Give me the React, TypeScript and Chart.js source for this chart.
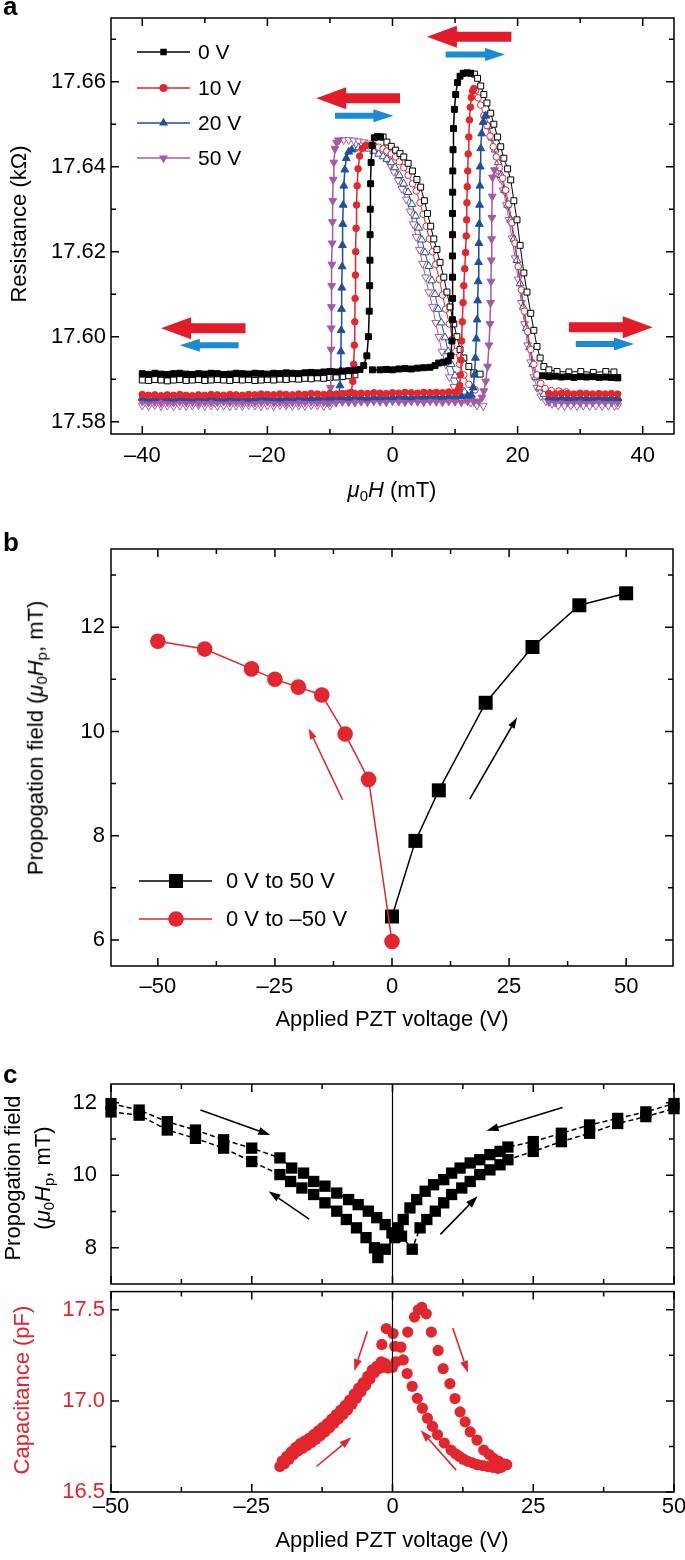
import React, { useEffect, useRef } from 'react';
import { Chart, registerables } from 'chart.js';

Chart.register(...registerables);

const FONT = "'Liberation Sans', Arial, Helvetica, sans-serif";
Chart.defaults.font.family = FONT;

type P = [number, number | null];
type Arrow = [number, number, number, number];

const C0 = '#000000';
const C10 = '#e5262c';
const C20 = '#1f4f9f';
const C50 = '#a65aa6';
const RED = '#e3262d';
const ARROW_RED = '#e41c2a';
const ARROW_BLUE = '#1b8bd3';

// ---------------- Panel a ----------------
const A_X_MAJOR = [-40, -20, 0, 20, 40];
const A_X_MINOR = [-30, -10, 10, 30];
const A_Y_MAJOR = [17.58, 17.6, 17.62, 17.64, 17.66];
const A_Y_MINOR = [17.59, 17.61, 17.63, 17.65, 17.67];
const A_LEGEND = ['0 V', '10 V', '20 V', '50 V'];

const A0_FILLED: P[] = [
  [-40, 17.5913], [-39, 17.5911], [-38, 17.5914], [-37, 17.5912], [-36, 17.5911], [-35, 17.5913], [-34, 17.5914], [-33, 17.5912], [-32, 17.5911], [-31, 17.5913], [-30, 17.5912], [-29, 17.5914], [-28, 17.5913], [-27, 17.5911], [-26, 17.5912], [-25, 17.5914], [-24, 17.5913], [-23, 17.5912], [-22, 17.5914], [-21, 17.5913], [-20, 17.5912], [-19, 17.5914], [-18, 17.5913], [-17, 17.5915], [-16, 17.5914], [-15, 17.5913], [-14, 17.5915], [-13, 17.5916], [-12, 17.5915], [-11, 17.5917], [-10, 17.5918], [-9, 17.5917], [-8, 17.5919], [-7, 17.592], [-6, 17.5921], [-5.2, 17.5923],
  [-4.6, 17.5932], [-4.1, 17.5955], [-3.85, 17.6], [-3.72, 17.606], [-3.65, 17.612], [-3.6, 17.618], [-3.58, 17.624], [-3.55, 17.63], [-3.5, 17.636], [-3.42, 17.641], [-3.25, 17.645], [-2.9, 17.6468], [-2.4, 17.6471], [-1.9, 17.647],
  [-1.9, null],
  [-3.2, 17.5922], [-2, 17.5922], [-1, 17.5923], [0, 17.5922], [1, 17.5924], [2, 17.5925], [3, 17.5924], [4, 17.5926], [5, 17.5927], [6, 17.5928], [6.8, 17.5932], [7.4, 17.5938], [8.2, 17.594], [8.9, 17.5943],
  [9.3, 17.5955], [9.5, 17.599], [9.58, 17.604], [9.6, 17.609], [9.6, 17.614], [9.6, 17.619], [9.6, 17.624], [9.6, 17.629], [9.62, 17.634], [9.64, 17.639], [9.68, 17.644], [9.75, 17.649], [9.9, 17.6535], [10.1, 17.657], [10.4, 17.6598], [10.8, 17.6613], [11.3, 17.662], [11.9, 17.6621], [12.5, 17.662],
  [12.5, null],
  [24, 17.5908], [25, 17.5906], [26, 17.5907], [27, 17.5905], [28, 17.5906], [29, 17.5904], [30, 17.5906], [31, 17.5905], [32, 17.5906], [33, 17.5904], [34, 17.5905], [35, 17.5904], [36, 17.5903],
];

const A0_OPEN: P[] = [
  [-40, 17.5898], [-39, 17.5897], [-38, 17.5899], [-37, 17.5898], [-36, 17.5896], [-35, 17.5898], [-34, 17.5899], [-33, 17.5897], [-32, 17.5898], [-31, 17.5899], [-30, 17.5897], [-29, 17.5898], [-28, 17.5899], [-27, 17.5898], [-26, 17.5897], [-25, 17.5899], [-24, 17.5898], [-23, 17.5899], [-22, 17.5897], [-21, 17.5898], [-20, 17.5899], [-19, 17.5898], [-18, 17.59], [-17, 17.5899], [-16, 17.5901], [-15, 17.59], [-14, 17.5902], [-13, 17.5901], [-12, 17.5903], [-11, 17.5902], [-10, 17.5904], [-9, 17.5905], [-8, 17.5906], [-7, 17.5908], [-6, 17.591],
  [-6, null],
  [-1.5, 17.647], [-0.9, 17.6458], [-0.2, 17.6448], [0.5, 17.6439], [1.2, 17.6431], [1.8, 17.6423], [2.5, 17.6408], [3.2, 17.639], [3.9, 17.637], [4.5, 17.6352], [5.1, 17.632], [5.6, 17.629], [6.1, 17.626], [6.6, 17.623], [7.1, 17.6205], [7.6, 17.6175], [8.2, 17.614], [8.7, 17.6105], [9.2, 17.607], [9.8, 17.603], [10.3, 17.6], [10.8, 17.597], [11.4, 17.595], [12.2, 17.593], [13, 17.5915], [14, 17.5912],
  [14, null],
  [13.1, 17.6618], [13.6, 17.6608], [14.1, 17.659], [14.6, 17.657], [15.1, 17.655], [15.7, 17.6526], [16.2, 17.65], [16.8, 17.647], [17.3, 17.6447], [17.8, 17.642], [18.4, 17.6395], [18.9, 17.6369], [19.4, 17.632], [19.9, 17.6275], [20.4, 17.6215], [21, 17.615], [21.5, 17.6105], [22.1, 17.6055], [22.6, 17.6015], [23.1, 17.5977], [23.6, 17.595], [24.2, 17.593], [25, 17.5922], [26.3, 17.5918], [28.2, 17.5917], [30.1, 17.5918], [32.1, 17.5916], [34.1, 17.5918], [35.4, 17.5917], [36, 17.5904],
];

const A10_FILLED: P[] = [
  [-40, 17.5864], [-39, 17.5862], [-38, 17.5863], [-37, 17.5861], [-36, 17.5863], [-35, 17.5862], [-34, 17.5864], [-33, 17.5862], [-32, 17.5861], [-31, 17.5863], [-30, 17.5862], [-29, 17.5864], [-28, 17.5863], [-27, 17.5862], [-26, 17.5864], [-25, 17.5863], [-24, 17.5862], [-23, 17.5864], [-22, 17.5863], [-21, 17.5865], [-20, 17.5864], [-19, 17.5863], [-18, 17.5865], [-17, 17.5864], [-16, 17.5863], [-15, 17.5865], [-14, 17.5864], [-13, 17.5866], [-12, 17.5865], [-11, 17.5864], [-10, 17.5866], [-9, 17.5865], [-8, 17.5866], [-7.2, 17.5867],
  [-6.6, 17.5869], [-6.35, 17.5895], [-6.2, 17.5935], [-6.1, 17.598], [-6.03, 17.6035], [-5.98, 17.609], [-5.93, 17.6145], [-5.88, 17.62], [-5.82, 17.6255], [-5.75, 17.631], [-5.65, 17.6355], [-5.5, 17.6395], [-5.25, 17.6425], [-4.85, 17.6443], [-4.3, 17.645],
  [-4.3, null],
  [-6, 17.5866], [-5, 17.5867], [-4, 17.5866], [-3, 17.5868], [-2, 17.5867], [-1, 17.5866], [0, 17.5868], [1, 17.5867], [2, 17.5869], [3, 17.5868], [4, 17.5867], [5, 17.5869], [6, 17.5868], [7, 17.5869], [8, 17.5868], [9, 17.587], [10, 17.5869], [10.6, 17.5872],
  [10.75, 17.5885], [10.85, 17.591], [10.95, 17.5945], [11.05, 17.599], [11.15, 17.6035], [11.28, 17.608], [11.4, 17.612], [11.55, 17.616], [11.68, 17.6198], [11.78, 17.6237], [11.85, 17.6275], [11.9, 17.6315], [11.95, 17.6353], [12.03, 17.639], [12.1, 17.643], [12.2, 17.647], [12.3, 17.651], [12.45, 17.654], [12.6, 17.6563], [12.8, 17.6578], [13, 17.6584],
  [13, null],
  [25, 17.5866], [26, 17.5865], [27, 17.5867], [28, 17.5866], [29, 17.5865], [30, 17.5867], [31, 17.5866], [32, 17.5865], [33, 17.5866], [34, 17.5865], [35, 17.5866], [36, 17.5865],
];

const A10_OPEN: P[] = [
  [-3.8, 17.6449], [-3, 17.6449], [-2.2, 17.6446], [-1.5, 17.6442], [-0.9, 17.6437], [-0.2, 17.643], [0.5, 17.6423], [1.1, 17.6412], [1.8, 17.6398], [2.5, 17.638], [3.2, 17.636], [3.8, 17.6343], [4.4, 17.6315], [4.9, 17.6288], [5.4, 17.626], [5.9, 17.623], [6.4, 17.62], [6.9, 17.617], [7.5, 17.6135], [8, 17.6098], [8.5, 17.6065], [9.1, 17.603], [9.6, 17.5995], [10.1, 17.5965], [10.7, 17.5935], [11.4, 17.591], [12.2, 17.5888], [13.2, 17.5875],
  [13.2, null],
  [13.3, 17.658], [13.7, 17.6562], [14.1, 17.6545], [14.6, 17.652], [15.1, 17.6497], [15.6, 17.6472], [16.1, 17.6447], [16.6, 17.6423], [17.1, 17.6398], [17.6, 17.6373], [18.1, 17.6345], [18.6, 17.6312], [19.1, 17.6268], [19.6, 17.622], [20.1, 17.6165], [20.6, 17.611], [21.1, 17.606], [21.6, 17.6012], [22.1, 17.597], [22.6, 17.5935], [23.1, 17.591], [23.7, 17.589], [24.4, 17.5878], [25.4, 17.5873], [26.6, 17.5872], [27.8, 17.587],
];

const A20_FILLED: P[] = [
  [-40, 17.5856], [-39, 17.5854], [-38, 17.5855], [-37, 17.5857], [-36, 17.5855], [-35, 17.5854], [-34, 17.5856], [-33, 17.5855], [-32, 17.5854], [-31, 17.5856], [-30, 17.5855], [-29, 17.5857], [-28, 17.5855], [-27, 17.5854], [-26, 17.5856], [-25, 17.5855], [-24, 17.5856], [-23, 17.5854], [-22, 17.5855], [-21, 17.5857], [-20, 17.5856], [-19, 17.5855], [-18, 17.5854], [-17, 17.5856], [-16, 17.5855], [-15, 17.5857], [-14, 17.5856], [-13, 17.5855], [-12, 17.5856], [-11, 17.5857], [-10, 17.5856], [-9.2, 17.5857],
  [-8.6, 17.586], [-8.4, 17.5885], [-8.3, 17.592], [-8.25, 17.5965], [-8.2, 17.6015], [-8.15, 17.6065], [-8.1, 17.6115], [-8.05, 17.6165], [-8, 17.6215], [-7.95, 17.6265], [-7.88, 17.631], [-7.78, 17.6355], [-7.62, 17.6393], [-7.38, 17.642], [-7, 17.6435], [-6.5, 17.644],
  [-6.5, null],
  [-8, 17.5857], [-7, 17.5856], [-6, 17.5858], [-5, 17.5857], [-4, 17.5856], [-3, 17.5858], [-2, 17.5857], [-1, 17.5858], [0, 17.5857], [1, 17.5859], [2, 17.5858], [3, 17.5857], [4, 17.5859], [5, 17.5858], [6, 17.586], [7, 17.5859], [8, 17.5858], [9, 17.586], [10, 17.5859], [11, 17.586], [12, 17.5861], [12.6, 17.5863],
  [12.9, 17.588], [13.1, 17.591], [13.25, 17.595], [13.4, 17.5995], [13.52, 17.604], [13.62, 17.6085], [13.7, 17.613], [13.76, 17.6175], [13.82, 17.622], [13.87, 17.6265], [13.92, 17.631], [13.97, 17.6355], [14.02, 17.64], [14.1, 17.6443], [14.25, 17.6478], [14.5, 17.6505], [14.85, 17.652],
  [14.85, null],
  [25, 17.5857], [26, 17.5856], [27, 17.5857], [28, 17.5855], [29, 17.5856], [30, 17.5857], [31, 17.5855], [32, 17.5856], [33, 17.5857], [34, 17.5855], [35, 17.5856], [36, 17.5855],
];

const A20_OPEN: P[] = [
  [-6.2, 17.6442], [-5.4, 17.6445], [-4.6, 17.6445], [-3.8, 17.6442], [-3, 17.6437], [-2.2, 17.643], [-1.5, 17.6424], [-0.9, 17.6418], [-0.2, 17.641], [0.4, 17.6398], [1.1, 17.638], [1.8, 17.636], [2.5, 17.634], [3.1, 17.6312], [3.7, 17.6284], [4.2, 17.6256], [4.7, 17.6228], [5.2, 17.6198], [5.8, 17.6166], [6.3, 17.6132], [6.8, 17.61], [7.3, 17.6065], [7.8, 17.6033], [8.4, 17.5998], [8.9, 17.5965], [9.4, 17.5935], [10, 17.5908], [10.7, 17.5885], [11.5, 17.587], [12.5, 17.586],
  [12.5, null],
  [14.9, 17.652], [15.4, 17.6495], [15.9, 17.6468], [16.4, 17.644], [16.9, 17.641], [17.4, 17.638], [17.9, 17.6345], [18.4, 17.631], [18.9, 17.6275], [19.4, 17.623], [19.9, 17.618], [20.4, 17.6125], [20.9, 17.607], [21.4, 17.602], [21.9, 17.5975], [22.4, 17.5935], [22.9, 17.5905], [23.5, 17.588], [24.2, 17.5865], [25.2, 17.5858], [26.5, 17.5855], [28, 17.5856], [30, 17.5855], [32, 17.5856], [34, 17.5855], [36, 17.5856],
];

const A50_FILLED: P[] = [
  [-40, 17.5847], [-39, 17.5845], [-38, 17.5846], [-37, 17.5844], [-36, 17.5846], [-35, 17.5845], [-34, 17.5847], [-33, 17.5845], [-32, 17.5846], [-31, 17.5844], [-30, 17.5846], [-29, 17.5845], [-28, 17.5846], [-27, 17.5847], [-26, 17.5845], [-25, 17.5846], [-24, 17.5844], [-23, 17.5846], [-22, 17.5845], [-21, 17.5846], [-20, 17.5847], [-19, 17.5845], [-18, 17.5846], [-17, 17.5844], [-16, 17.5846], [-15, 17.5845], [-14, 17.5846], [-13, 17.5847], [-12, 17.5845], [-11, 17.5846], [-10.4, 17.5845],
  [-10.05, 17.5855], [-9.92, 17.588], [-9.86, 17.592], [-9.82, 17.597], [-9.79, 17.602], [-9.76, 17.607], [-9.72, 17.612], [-9.69, 17.617], [-9.65, 17.622], [-9.6, 17.627], [-9.55, 17.632], [-9.48, 17.637], [-9.38, 17.641], [-9.2, 17.6442], [-8.95, 17.6457], [-8.6, 17.6462],
  [-8.6, null],
  [-10, 17.5846], [-9, 17.5845], [-8, 17.5847], [-7, 17.5846], [-6, 17.5845], [-5, 17.5847], [-4, 17.5846], [-3, 17.5848], [-2, 17.5847], [-1, 17.5846], [0, 17.5848], [1, 17.5847], [2, 17.5846], [3, 17.5848], [4, 17.5847], [5, 17.5846], [6, 17.5848], [7, 17.5847], [8, 17.5846], [9, 17.5848], [10, 17.5847], [11, 17.5846], [12, 17.5848], [13, 17.5847], [13.8, 17.5848],
  [14.3, 17.5857], [14.6, 17.5872], [14.9, 17.5895], [15.2, 17.593], [15.42, 17.598], [15.58, 17.603], [15.68, 17.608], [15.74, 17.613], [15.79, 17.618], [15.84, 17.623], [15.89, 17.628], [15.94, 17.633], [16, 17.6375], [16.3, 17.6392],
  [16.3, null],
  [25, 17.5846], [26, 17.5845], [27, 17.5847], [28, 17.5845], [29, 17.5846], [30, 17.5844], [31, 17.5846], [32, 17.5845], [33, 17.5847], [34, 17.5845], [35, 17.5846], [36, 17.5845],
];

const A50_OPEN: P[] = [
  [-40, 17.5838], [-39, 17.5837], [-38, 17.5839], [-37, 17.5837], [-36, 17.5838], [-35, 17.5836], [-34, 17.5838], [-33, 17.5837], [-32, 17.5838], [-31, 17.5839], [-30, 17.5837], [-29, 17.5838], [-28, 17.5837], [-27, 17.5838], [-26, 17.5836], [-25, 17.5838], [-24, 17.5837], [-23, 17.5839], [-22, 17.5838], [-21, 17.5837], [-20, 17.5838], [-19, 17.5837], [-18, 17.5839], [-17, 17.5838], [-16, 17.5837], [-15, 17.5838], [-14, 17.5837], [-13, 17.5839], [-12, 17.5838], [-11, 17.5837], [-10, 17.5838],
  [-10, null],
  [-8.6, 17.6462], [-7.8, 17.6463], [-7, 17.6463], [-6.2, 17.6462], [-5.4, 17.646], [-4.6, 17.6458], [-3.8, 17.6455], [-3.1, 17.645], [-2.4, 17.6443], [-1.7, 17.6433], [-1, 17.642], [-0.4, 17.6405], [0.2, 17.6388], [0.9, 17.6368], [1.5, 17.6348], [2.2, 17.6323], [2.8, 17.6295], [3.3, 17.6265], [3.8, 17.6235], [4.3, 17.6205], [4.8, 17.6172], [5.3, 17.614], [5.8, 17.6105], [6.4, 17.607], [6.9, 17.6033], [7.4, 17.6], [7.9, 17.5965], [8.5, 17.5935], [9.1, 17.5905], [9.8, 17.5882], [10.6, 17.5865], [11.5, 17.5852], [12.5, 17.5845], [13.5, 17.5838], [14.5, 17.5837],
  [14.5, null],
  [16.7, 17.6392], [17.2, 17.6372], [17.7, 17.6345], [18.2, 17.631], [18.6, 17.6275], [19.1, 17.6232], [19.6, 17.6185], [20.1, 17.6135], [20.6, 17.608], [21.1, 17.603], [21.6, 17.598], [22.1, 17.594], [22.6, 17.5905], [23.1, 17.588], [23.7, 17.586], [24.5, 17.5848], [25.5, 17.5842], [26.5, 17.5838], [27.5, 17.5837], [28.5, 17.5838], [29.5, 17.5837], [30.5, 17.5838], [31.5, 17.5837], [32.5, 17.5838], [33.5, 17.5837], [34.5, 17.5838], [35.5, 17.5837], [36, 17.5838],
];

// block arrows: [tail x, tip x, y]
const A_RED_ARROWS: [number, number, number][] = [[-23.5, -37, 17.602], [1.2, -12.2, 17.6561], [19.0, 5.5, 17.6706], [28.2, 41.6, 17.6022]];
const A_BLUE_ARROWS: [number, number, number][] = [[-24.6, -34, 17.598], [-9.2, 0.14, 17.652], [8.5, 18.0, 17.6664], [29.3, 38.6, 17.5983]];

// ---------------- Panel b ----------------
const B_X_MAJOR = [-50, -25, 0, 25, 50];
const B_X_MINOR = [-37.5, -12.5, 12.5, 37.5];
const B_Y_MAJOR = [6, 8, 10, 12];
const B_Y_MINOR = [7, 9, 11, 13];
const B_UP_V = [0, 5, 10, 20, 30, 40, 50];
const B_UP_H = [6.45, 7.9, 8.87, 10.55, 11.62, 12.42, 12.65];
const B_DOWN_V = [0, -5, -10, -15, -20, -25, -30, -40, -50];
const B_DOWN_H = [5.97, 9.08, 9.95, 10.7, 10.85, 11.0, 11.2, 11.58, 11.73];
const B_LEGEND = ['0 V to 50 V', '0 V to \u201350 V'];
const B_ARROWS_BLACK: Arrow[] = [[16.6, 8.7, 26.7, 10.27]];
const B_ARROWS_RED: Arrow[] = [[-10.55, 8.69, -17.8, 10.06]];

// ---------------- Panel c ----------------
const C_X_MAJOR = [-50, -25, 0, 25, 50];
const C_X_MINOR = [-37.5, -12.5, 12.5, 37.5];
const C1_Y_MAJOR = [8, 10, 12];
const C1_Y_MINOR = [9, 11];
const C2_Y_MAJOR = [16.5, 17.0, 17.5];
const C2_Y_MINOR = [16.75, 17.25];

const C_HP_UPPER: P[] = [
  [-50, 11.98], [-45, 11.8], [-40, 11.48], [-35, 11.25], [-30, 10.98], [-25, 10.75], [-20, 10.48], [-17.9, 10.2], [-15.8, 10.06], [-14, 9.83], [-12, 9.7], [-9.9, 9.51], [-7.8, 9.33], [-6.1, 9.19], [-4.3, 9.01], [-2.8, 8.83], [-1.3, 8.64], [-0.1, 8.41], [1, 8.55], [1.9, 8.78], [3.1, 9.1], [4.3, 9.33], [5.8, 9.56], [7.3, 9.74], [9.1, 9.88], [10.5, 10.06], [12, 10.2], [13.8, 10.34], [15.5, 10.43], [17.3, 10.57], [19.1, 10.66], [20.5, 10.78], [25, 10.93], [30, 11.16], [35, 11.39], [40, 11.57], [45, 11.75], [50, 11.98],
];
const C_HP_LOWER: P[] = [
  [-50, 11.75], [-45, 11.66], [-40, 11.25], [-35, 11.02], [-30, 10.75], [-25, 10.38], [-20, 10.02], [-18.1, 9.83], [-16.1, 9.65], [-14, 9.47], [-12, 9.24], [-9.9, 9.01], [-8.2, 8.78], [-6.4, 8.55], [-4.7, 8.28], [-3.2, 8.0], [-2.6, 7.73], [-1.3, 7.96], [0.4, 8.28], [1.6, 8.32], [3.5, 7.96], [4.9, 8.55], [6.1, 8.78], [7.6, 9.01], [9.1, 9.24], [10.5, 9.47], [12.3, 9.65], [13.8, 9.83], [15.5, 10.02], [17.3, 10.15], [19.1, 10.29], [20.5, 10.43], [25, 10.66], [30, 10.93], [35, 11.16], [40, 11.43], [45, 11.62], [50, 11.84],
];
const C_CAP: P[] = [
  [-20, 16.64], [-19.2, 16.655], [-18.4, 16.68], [-17.6, 16.705], [-16.8, 16.725], [-16, 16.74], [-15.2, 16.755], [-14.4, 16.772], [-13.6, 16.79], [-12.8, 16.81], [-12, 16.83], [-11.2, 16.853], [-10.4, 16.877], [-9.6, 16.9], [-8.8, 16.925], [-8, 16.95], [-7.2, 16.982], [-6.4, 17.015], [-5.6, 17.05], [-4.8, 17.085], [-4, 17.12], [-3.2, 17.155], [-2.4, 17.178], [-1.6, 17.185], [-0.8, 17.18], [0, 17.185],
  [-1.3, 17.205], [-2, 17.215], [-2.8, 17.19], [-3.6, 17.17], [-4.4, 17.135], [-5.2, 17.1], [-6, 17.07], [-6.8, 17.038], [-7.6, 17.005], [-8.4, 16.975], [-9.2, 16.95], [-10, 16.925], [-10.8, 16.9], [-11.6, 16.875], [-12.4, 16.855], [-13.2, 16.835], [-14, 16.815], [-14.8, 16.795], [-15.6, 16.78], [-16.4, 16.765], [-17.2, 16.745], [-18, 16.72], [-18.8, 16.695], [-19.6, 16.67],
  [-1.1, 17.397], [0.1, 17.37], [-1.9, 17.31], [0.4, 17.3], [1.5, 17.295], [1.9, 17.225], [0.6, 17.215],
  [2.7, 17.378], [3.9, 17.46], [4.6, 17.5], [5.2, 17.514], [6, 17.478], [6.9, 17.378], [8.1, 17.277], [9, 17.177], [10.2, 17.095], [11.1, 17.013], [12, 16.94], [12.9, 16.885], [13.8, 16.83], [15, 16.785], [16.2, 16.73], [17.2, 16.705], [17.9, 16.685], [18.8, 16.67], [19.7, 16.655], [20.3, 16.65],
  [2.6, 17.15], [3.5, 17.08], [4.4, 17.014], [5.3, 16.96], [6.2, 16.905], [7.1, 16.86], [8, 16.814], [9.2, 16.769], [10.4, 16.73], [11.2, 16.71], [11.9, 16.695], [12.6, 16.68], [13.4, 16.668], [14.2, 16.66], [15.1, 16.65], [16, 16.645], [16.9, 16.64], [17.8, 16.635], [18.7, 16.63], [19.3, 16.635], [19.9, 16.65],
];
const C1_ARROWS: Arrow[] = [[-34.1, 11.8, -21.7, 11.11], [-14.8, 8.79, -22.0, 9.56], [30.2, 11.87, 16.7, 11.23], [8.5, 8.37, 15.1, 9.42]];
const C2_ARROWS: Arrow[] = [[-4.46, 17.383, -6.8, 17.164], [-13.5, 16.64, -7.3, 16.8], [10.7, 17.4, 13.4, 17.154], [11.3, 16.62, 5.0, 16.84]];

// ---------------- helpers ----------------
const toXY = (arr: P[]) => arr.map(([x, y]) => ({ x, y }));
const zip = (xs: number[], ys: number[]) => xs.map((x, i) => ({ x, y: ys[i] }));
const fmt = (v: number, d: number) => (v < 0 ? '\u2013' : '') + Math.abs(v).toFixed(d);

function markerPath(ctx: CanvasRenderingContext2D, style: string, x: number, y: number, r: number, rot: number) {
  ctx.beginPath();
  if (style === 'rect') {
    const s = r * Math.SQRT1_2;
    ctx.rect(x - s, y - s, 2 * s, 2 * s);
  } else if (style === 'circle') {
    ctx.arc(x, y, r, 0, Math.PI * 2);
  } else {
    let rad = (rot * Math.PI) / 180;
    ctx.moveTo(x + Math.sin(rad) * r, y - Math.cos(rad) * r);
    rad += (2 * Math.PI) / 3;
    ctx.lineTo(x + Math.sin(rad) * r, y - Math.cos(rad) * r);
    rad += (2 * Math.PI) / 3;
    ctx.lineTo(x + Math.sin(rad) * r, y - Math.cos(rad) * r);
    ctx.closePath();
  }
}

function framePlugin(o: { xMajor: number[]; xMinor: number[]; yMajor: number[]; yMinor: number[]; zeroLine?: boolean; major?: number; minor?: number }) {
  return {
    id: 'frame',
    afterDatasetsDraw(chart: any) {
      const { ctx, chartArea } = chart;
      const { left, right, top, bottom } = chartArea;
      const xs = chart.scales.x;
      const ys = chart.scales.y;
      const maj = o.major ?? 8;
      const min = o.minor ?? 5;
      ctx.save();
      ctx.strokeStyle = '#000';
      if (o.zeroLine) {
        const px = xs.getPixelForValue(0);
        ctx.lineWidth = 1.2;
        ctx.beginPath();
        ctx.moveTo(px, top);
        ctx.lineTo(px, bottom);
        ctx.stroke();
      }
      ctx.lineWidth = 1.5;
      ctx.strokeRect(left, top, right - left, bottom - top);
      const xt = (vals: number[], len: number) => {
        vals.forEach((v) => {
          const px = xs.getPixelForValue(v);
          ctx.beginPath();
          ctx.moveTo(px, bottom);
          ctx.lineTo(px, bottom - len);
          ctx.moveTo(px, top);
          ctx.lineTo(px, top + len);
          ctx.stroke();
        });
      };
      const yt = (vals: number[], len: number) => {
        vals.forEach((v) => {
          const py = ys.getPixelForValue(v);
          ctx.beginPath();
          ctx.moveTo(left, py);
          ctx.lineTo(left + len, py);
          ctx.moveTo(right, py);
          ctx.lineTo(right - len, py);
          ctx.stroke();
        });
      };
      xt(o.xMajor, maj);
      xt(o.xMinor, min);
      yt(o.yMajor, maj);
      yt(o.yMinor, min);
      ctx.restore();
    },
  };
}

function thinArrowPlugin(id: string, arrows: Arrow[], color: string, headL = 11, headW = 7) {
  return {
    id,
    afterDraw(chart: any) {
      const { ctx } = chart;
      const xs = chart.scales.x;
      const ys = chart.scales.y;
      ctx.save();
      ctx.strokeStyle = color;
      ctx.fillStyle = color;
      ctx.lineWidth = 1.6;
      arrows.forEach(([x1, y1, x2, y2]) => {
        const ax = xs.getPixelForValue(x1);
        const ay = ys.getPixelForValue(y1);
        const bx = xs.getPixelForValue(x2);
        const by = ys.getPixelForValue(y2);
        const ang = Math.atan2(by - ay, bx - ax);
        const cx = bx - Math.cos(ang) * headL;
        const cy = by - Math.sin(ang) * headL;
        ctx.beginPath();
        ctx.moveTo(ax, ay);
        ctx.lineTo(cx, cy);
        ctx.stroke();
        ctx.beginPath();
        ctx.moveTo(bx, by);
        ctx.lineTo(cx - Math.sin(ang) * headW / 2, cy + Math.cos(ang) * headW / 2);
        ctx.lineTo(cx + Math.sin(ang) * headW / 2, cy - Math.cos(ang) * headW / 2);
        ctx.closePath();
        ctx.fill();
      });
      ctx.restore();
    },
  };
}

const blockArrowPlugin = {
  id: 'blockArrows',
  afterDraw(chart: any) {
    const { ctx } = chart;
    const xs = chart.scales.x;
    const ys = chart.scales.y;
    const draw = (list: [number, number, number][], color: string, shaft: number, headH: number, headL: number) => {
      ctx.fillStyle = color;
      list.forEach(([tail, tip, yv]) => {
        const xt = xs.getPixelForValue(tail);
        const xp = xs.getPixelForValue(tip);
        const y = ys.getPixelForValue(yv);
        const dir = Math.sign(xp - xt);
        const xb = xp - dir * headL;
        ctx.beginPath();
        ctx.moveTo(xt, y - shaft / 2);
        ctx.lineTo(xb, y - shaft / 2);
        ctx.lineTo(xb, y - headH / 2);
        ctx.lineTo(xp, y);
        ctx.lineTo(xb, y + headH / 2);
        ctx.lineTo(xb, y + shaft / 2);
        ctx.lineTo(xt, y + shaft / 2);
        ctx.closePath();
        ctx.fill();
      });
    };
    ctx.save();
    draw(A_RED_ARROWS, ARROW_RED, 10, 22, 30);
    draw(A_BLUE_ARROWS, ARROW_BLUE, 6, 13, 20);
    ctx.restore();
  },
};

function legendPlugin(id: string, items: { label: string; color: string; style: string; r: number; rot: number }[], o: { x1: number; x2: number; xm: number; xt: number; ys: number[]; size: number }) {
  return {
    id,
    afterDraw(chart: any) {
      const { ctx } = chart;
      ctx.save();
      items.forEach((it, i) => {
        const y = o.ys[i];
        ctx.strokeStyle = it.color;
        ctx.fillStyle = it.color;
        ctx.lineWidth = 1.6;
        ctx.beginPath();
        ctx.moveTo(o.x1, y);
        ctx.lineTo(o.x2, y);
        ctx.stroke();
        markerPath(ctx, it.style, o.xm, y, it.r, it.rot);
        ctx.fill();
        ctx.fillStyle = '#000';
        ctx.font = `${o.size}px ${FONT}`;
        ctx.textBaseline = 'middle';
        ctx.textAlign = 'left';
        ctx.fillText(it.label, o.xt, y + 1);
      });
      ctx.restore();
    },
  };
}

function scalesFor(o: any) {
  return {
    x: {
      type: 'linear',
      min: o.xMin,
      max: o.xMax,
      afterBuildTicks: (s: any) => {
        s.ticks = o.xMajor.map((v: number) => ({ value: v }));
      },
      afterFit: (s: any) => {
        s.height = o.xHeight;
        s.paddingLeft = 0;
        s.paddingRight = 0;
      },
      grid: { display: false, drawTicks: false },
      border: { display: false },
      ticks: {
        display: o.xLabels,
        padding: o.xPad,
        color: '#000',
        font: { family: FONT, size: 22 },
        maxRotation: 0,
        autoSkip: false,
        callback: (v: number) => fmt(v, 0),
      },
    },
    y: {
      type: 'linear',
      min: o.yMin,
      max: o.yMax,
      afterBuildTicks: (s: any) => {
        s.ticks = o.yMajor.map((v: number) => ({ value: v }));
      },
      afterFit: (s: any) => {
        s.width = o.yWidth;
        s.paddingTop = 0;
        s.paddingBottom = 0;
      },
      grid: { display: false, drawTicks: false },
      border: { display: false },
      ticks: {
        padding: o.yPad,
        color: o.yColor ?? '#000',
        font: { family: FONT, size: 22 },
        autoSkip: false,
        callback: (v: number) => fmt(v, o.yDec),
      },
    },
  };
}

function baseOptions(scales: any, pad: any) {
  return {
    responsive: false,
    animation: false,
    events: [],
    layout: { padding: pad },
    plugins: { legend: { display: false }, tooltip: { enabled: false }, title: { display: false } },
    scales,
  };
}

function lineSet(data: any[], color: string, style: string, r: number, open: boolean, rot = 0, extra: any = {}) {
  return {
    data,
    showLine: true,
    borderColor: color,
    backgroundColor: color,
    borderWidth: open ? 1 : 1.5,
    pointStyle: style,
    pointRadius: r,
    pointRotation: rot,
    pointBorderColor: color,
    pointBackgroundColor: open ? '#ffffff' : color,
    pointBorderWidth: 1,
    tension: 0,
    spanGaps: false,
    ...extra,
  };
}

// ---------------- configs ----------------
function configA() {
  return {
    type: 'scatter',
    data: {
      datasets: [
        lineSet(toXY(A0_FILLED), C0, 'rect', 4.2, false),
        lineSet(toXY(A10_FILLED), C10, 'circle', 3.3, false),
        lineSet(toXY(A20_FILLED), C20, 'triangle', 4.5, false),
        lineSet(toXY(A50_FILLED), C50, 'triangle', 4.5, false, 180),
        lineSet(toXY(A0_OPEN), C0, 'rect', 4.2, true),
        lineSet(toXY(A10_OPEN), C10, 'circle', 3.3, true),
        lineSet(toXY(A20_OPEN), C20, 'triangle', 4.5, true),
        lineSet(toXY(A50_OPEN), C50, 'triangle', 4.5, true, 180),
      ],
    },
    options: baseOptions(
      scalesFor({ xMin: -45, xMax: 45, yMin: 17.5771, yMax: 17.675, xMajor: A_X_MAJOR, yMajor: A_Y_MAJOR, xHeight: 71, yWidth: 111, xLabels: true, xPad: 9, yPad: 5, yDec: 2 }),
      { left: 0, right: 11, top: 18, bottom: 0 },
    ),
    plugins: [
      framePlugin({ xMajor: A_X_MAJOR, xMinor: A_X_MINOR, yMajor: A_Y_MAJOR, yMinor: A_Y_MINOR }),
      blockArrowPlugin,
      legendPlugin(
        'legA',
        [
          { label: A_LEGEND[0], color: C0, style: 'rect', r: 4.6, rot: 0 },
          { label: A_LEGEND[1], color: C10, style: 'circle', r: 4, rot: 0 },
          { label: A_LEGEND[2], color: C20, style: 'triangle', r: 5.2, rot: 0 },
          { label: A_LEGEND[3], color: C50, style: 'triangle', r: 5.2, rot: 180 },
        ],
        { x1: 137, x2: 190, xm: 163.5, xt: 198, ys: [52, 88, 123, 158], size: 21 },
      ),
    ],
  };
}

function configB() {
  return {
    type: 'scatter',
    data: {
      datasets: [
        lineSet(zip(B_DOWN_V, B_DOWN_H), RED, 'circle', 7.8, false, 0, { borderWidth: 1.5, pointBorderWidth: 0 }),
        lineSet(zip(B_UP_V, B_UP_H), C0, 'rect', 9.9, false, 0, { borderWidth: 1.5, pointBorderWidth: 0 }),
      ],
    },
    options: baseOptions(
      scalesFor({ xMin: -60, xMax: 60, yMin: 5.5, yMax: 13.5, xMajor: B_X_MAJOR, yMajor: B_Y_MAJOR, xHeight: 74, yWidth: 111, xLabels: true, xPad: 8, yPad: 6, yDec: 0 }),
      { left: 0, right: 12, top: 29, bottom: 0 },
    ),
    plugins: [
      framePlugin({ xMajor: B_X_MAJOR, xMinor: B_X_MINOR, yMajor: B_Y_MAJOR, yMinor: B_Y_MINOR }),
      thinArrowPlugin('arrBk', B_ARROWS_BLACK, '#000', 11, 7),
      thinArrowPlugin('arrRd', B_ARROWS_RED, RED, 11, 7),
      legendPlugin(
        'legB',
        [
          { label: B_LEGEND[0], color: C0, style: 'rect', r: 9.9, rot: 0 },
          { label: B_LEGEND[1], color: RED, style: 'circle', r: 7.8, rot: 0 },
        ],
        { x1: 139, x2: 212, xm: 176, xt: 226, ys: [361, 399], size: 22 },
      ),
    ],
  };
}

function configC1() {
  return {
    type: 'scatter',
    data: {
      datasets: [
        lineSet(toXY(C_HP_UPPER), C0, 'rect', 8, false, 0, { borderDash: [5, 3], borderWidth: 1.5, pointBorderWidth: 0, clip: false }),
        lineSet(toXY(C_HP_LOWER), C0, 'rect', 8, false, 0, { borderDash: [5, 3], borderWidth: 1.5, pointBorderWidth: 0, clip: false }),
      ],
    },
    options: baseOptions(
      scalesFor({ xMin: -50, xMax: 50, yMin: 7.0, yMax: 12.52, xMajor: C_X_MAJOR, yMajor: C1_Y_MAJOR, xHeight: 16, yWidth: 111, xLabels: false, xPad: 0, yPad: 14, yDec: 0 }),
      { left: 0, right: 11, top: 24, bottom: 0 },
    ),
    plugins: [
      framePlugin({ xMajor: C_X_MAJOR, xMinor: C_X_MINOR, yMajor: C1_Y_MAJOR, yMinor: C1_Y_MINOR, zeroLine: true }),
      thinArrowPlugin('arrC1', C1_ARROWS, '#000', 12, 8),
    ],
  };
}

function configC2() {
  return {
    type: 'scatter',
    data: {
      datasets: [
        {
          data: toXY(C_CAP),
          showLine: false,
          pointStyle: 'circle',
          pointRadius: 5.6,
          pointBackgroundColor: RED,
          pointBorderColor: RED,
          pointBorderWidth: 0,
          clip: false,
        },
      ],
    },
    options: baseOptions(
      scalesFor({ xMin: -50, xMax: 50, yMin: 16.5, yMax: 17.6, xMajor: C_X_MAJOR, yMajor: C2_Y_MAJOR, xHeight: 68, yWidth: 111, xLabels: true, xPad: 2, yPad: 6, yDec: 1, yColor: RED }),
      { left: 0, right: 11, top: 5, bottom: 0 },
    ),
    plugins: [
      framePlugin({ xMajor: C_X_MAJOR, xMinor: C_X_MINOR, yMajor: C2_Y_MAJOR, yMinor: C2_Y_MINOR, zeroLine: true }),
      thinArrowPlugin('arrC2', C2_ARROWS, RED, 12, 8),
    ],
  };
}

function ChartCanvas({ top, height, make }: { top: number; height: number; make: () => any }) {
  const ref = useRef<HTMLCanvasElement>(null);
  useEffect(() => {
    const chart = new Chart(ref.current as HTMLCanvasElement, make());
    return () => chart.destroy();
  }, []);
  return <canvas ref={ref} width={685} height={height} style={{ position: 'absolute', left: 0, top, width: 685, height }} />;
}

function Label({ x, y, rot, size = 22, color = '#000', bold, children, lh }: any) {
  return (
    <div
      style={{
        position: 'absolute',
        left: x,
        top: y,
        transform: `translate(-50%, -50%)${rot ? ' rotate(-90deg)' : ''}`,
        whiteSpace: 'nowrap',
        fontFamily: FONT,
        fontSize: size,
        color,
        fontWeight: bold ? 'bold' : 'normal',
        lineHeight: lh ?? 1.2,
        textAlign: 'center',
      }}
    >
      {children}
    </div>
  );
}

const subStyle: React.CSSProperties = { fontSize: '0.68em', verticalAlign: '-0.28em', lineHeight: 0 };

function MuH({ p }: { p?: boolean }) {
  return (
    <>
      <i>μ</i>
      <sub style={subStyle}>0</sub>
      <i>H</i>
      {p ? <sub style={subStyle}>p</sub> : null}
    </>
  );
}

export default function App() {
  return (
    <div style={{ position: 'absolute', left: 0, top: 0, width: 685, height: 1560, background: '#fff', overflow: 'hidden' }}>
      <ChartCanvas top={0} height={505} make={configA} />
      <ChartCanvas top={520} height={520} make={configB} />
      <ChartCanvas top={1060} height={240} make={configC1} />
      <ChartCanvas top={1286} height={274} make={configC2} />

      <div style={{ position: 'absolute', left: 3, top: -7, fontFamily: FONT, fontSize: 26, fontWeight: 'bold', lineHeight: 1 }}>a</div>
      <div style={{ position: 'absolute', left: 3, top: 529, fontFamily: FONT, fontSize: 26, fontWeight: 'bold', lineHeight: 1 }}>b</div>
      <div style={{ position: 'absolute', left: 3, top: 1061, fontFamily: FONT, fontSize: 26, fontWeight: 'bold', lineHeight: 1 }}>c</div>

      <Label x={19} y={224} rot>Resistance (kΩ)</Label>
      <Label x={392} y={490}>
        <MuH /> (mT)
      </Label>

      <Label x={36} y={738} rot>
        Propogation field (<MuH p />, mT)
      </Label>
      <Label x={392} y={1019}>Applied PZT voltage (V)</Label>

      <Label x={28} y={1178} rot lh="30px">
        Propogation field
        <br />(<MuH p />, mT)
      </Label>
      <Label x={22} y={1390} rot color={RED}>Capacitance (pF)</Label>
      <Label x={392} y={1540}>Applied PZT voltage (V)</Label>
    </div>
  );
}
